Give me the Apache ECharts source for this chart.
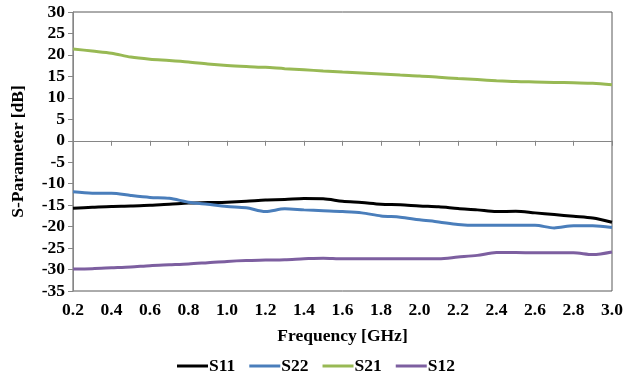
<!DOCTYPE html>
<html lang="en">
<head>
    <meta charset="UTF-8">
    <title>S-Parameter</title>
    <script type="text/javascript" src="https://cdn.jsdelivr.net/npm/echarts@6/dist/echarts.min.js"></script>
</head>
<body style="margin:0;background:#fff;">
    <div id="main" style="width:632px;height:382px;"></div>
    <script type="text/javascript">
    // frequency points (GHz)
    var freq = [0.2, 0.3, 0.4, 0.5, 0.6, 0.7, 0.8, 0.9, 1.0, 1.1, 1.2, 1.3, 1.4, 1.5, 1.6,
                1.7, 1.8, 1.9, 2.0, 2.1, 2.2, 2.3, 2.4, 2.5, 2.6, 2.7, 2.8, 2.9, 3.0];
    var s11 = [-15.7, -15.5, -15.3, -15.2, -15.0, -14.8, -14.5, -14.4, -14.3, -14.1, -13.8, -13.7, -13.45, -13.5, -14.1,
               -14.4, -14.8, -14.9, -15.2, -15.4, -15.8, -16.1, -16.5, -16.4, -16.8, -17.2, -17.6, -18.0, -19.0];
    var s22 = [-11.9, -12.2, -12.2, -12.75, -13.2, -13.4, -14.3, -14.8, -15.3, -15.6, -16.5, -15.85, -16.1, -16.3, -16.5,
               -16.8, -17.5, -17.8, -18.4, -18.9, -19.5, -19.7, -19.7, -19.7, -19.7, -20.3, -19.8, -19.8, -20.2];
    var s21 = [21.4, 20.9, 20.4, 19.5, 19.0, 18.7, 18.35, 17.9, 17.55, 17.3, 17.1, 16.8, 16.55, 16.25, 16.0,
               15.8, 15.55, 15.3, 15.1, 14.8, 14.5, 14.25, 14.0, 13.8, 13.7, 13.6, 13.5, 13.4, 13.05];
    var s12 = [-29.9, -29.8, -29.6, -29.4, -29.1, -28.9, -28.7, -28.4, -28.1, -27.9, -27.8, -27.7, -27.5, -27.35, -27.5,
               -27.5, -27.5, -27.5, -27.5, -27.5, -27.1, -26.7, -26.05, -26.05, -26.1, -26.1, -26.1, -26.5, -25.9];

    function pairs(vals) {
        return freq.map(function(f, i) { return [f, vals[i]]; });
    }

    var FONT = 'Liberation Serif';
    var SIZE = 17.5;

    var myChart = echarts.init(document.getElementById('main'));

    function line(name, vals, color) {
        return {
            name: name,
            type: 'line',
            data: pairs(vals),
            smooth: 0.3,
            showSymbol: false,
            color: color,
            lineStyle: { width: 3, color: color }
        };
    }

    option = {
        animation: false,
        grid: {
            left: 73, right: 20, top: 12, bottom: 91,
            show: true, borderColor: '#595959', borderWidth: 1
        },
        legend: {
            bottom: 2,
            itemWidth: 31,
            itemHeight: 3,
            itemGap: 14,
            icon: 'rect',
            textStyle: { fontFamily: FONT, fontWeight: 'bold', fontSize: SIZE, color: '#000', padding: [0, 0, 0, -4] },
            data: ['S11', 'S22', 'S21', 'S12']
        },
        xAxis: {
            type: 'value',
            min: 0.2, max: 3.0, interval: 0.2,
            name: 'Frequency [GHz]',
            nameLocation: 'middle',
            nameGap: 36,
            nameTextStyle: { fontFamily: FONT, fontWeight: 'bold', fontSize: SIZE, color: '#000' },
            axisLine: { show: true, lineStyle: { color: '#868686' } },
            axisTick: { show: true, length: 5, lineStyle: { color: '#868686' } },
            axisLabel: {
                margin: 10,
                fontFamily: FONT, fontWeight: 'bold', fontSize: SIZE, color: '#000',
                formatter: function(v) { return v.toFixed(1); }
            },
            splitLine: { show: false }
        },
        yAxis: {
            type: 'value',
            min: -35, max: 30, interval: 5,
            name: 'S-Parameter [dB]',
            nameLocation: 'middle',
            nameGap: 46,
            nameTextStyle: { fontFamily: FONT, fontWeight: 'bold', fontSize: SIZE, color: '#000' },
            axisLine: { show: true, lineStyle: { color: '#868686' } },
            axisTick: { show: true, length: 5, lineStyle: { color: '#868686' } },
            axisLabel: { margin: 8, fontFamily: FONT, fontWeight: 'bold', fontSize: SIZE, color: '#000' },
            splitLine: { show: false }
        },
        series: [
            line('S11', s11, '#000000'),
            line('S22', s22, '#4a7ebb'),
            line('S21', s21, '#98b954'),
            line('S12', s12, '#7d5fa0')
        ]
    };

    myChart.setOption(option);
    </script>
</body>
</html>
